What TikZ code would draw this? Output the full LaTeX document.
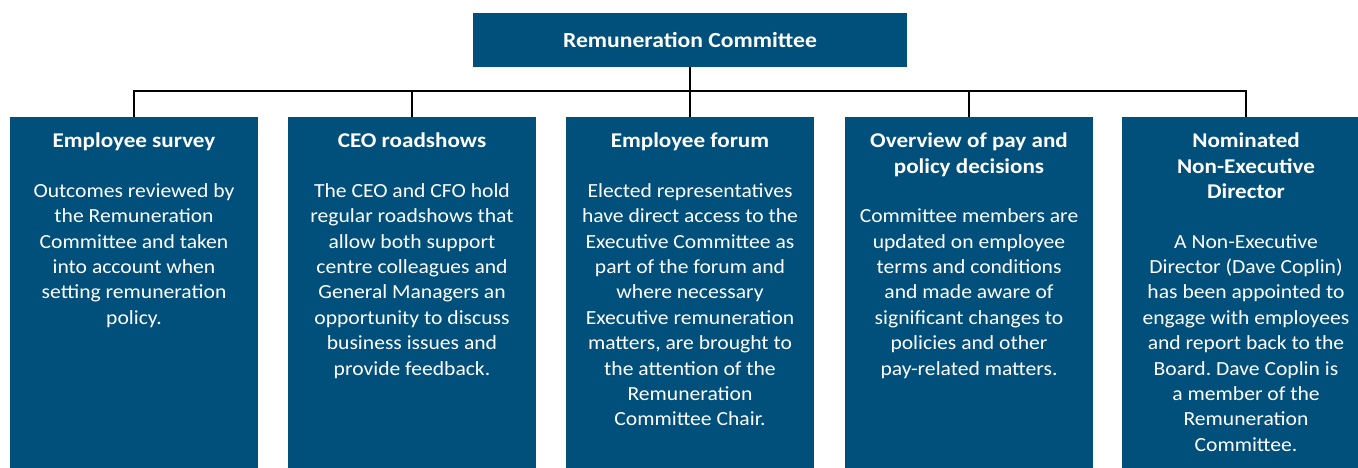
\documentclass[tikz,border=0pt]{standalone}
\usepackage{fontspec}
\setmainfont{Carlito}[FakeStretch=1.08, BoldFeatures={FakeStretch=1.1}]
\definecolor{rnavy}{RGB}{1,80,124}
\newcommand\cardtitle[1]{{\fontsize{21}{25.4}\selectfont\bfseries #1}}
\begin{document}
\frenchspacing
\begin{tikzpicture}[x=1pt,y=-1pt,
  card/.style={fill=rnavy, draw=none, minimum width=248pt, minimum height=351pt, anchor=north, inner sep=0pt, outer sep=0pt},
  cardtext/.style={text=white, align=center, anchor=north, inner sep=0pt, font=\fontsize{20}{25.4}\selectfont},
  topbox/.style={fill=rnavy, draw=none, minimum width=434pt, minimum height=54pt, inner sep=0pt, outer sep=0pt, text=white, font=\fontsize{21.5}{25.4}\selectfont\bfseries},
  conn/.style={draw=black, line width=1.3pt}]
\useasboundingbox (0,0) rectangle (1358,468);
\clip (0,0) rectangle (1358,468);
\node[topbox] (rc) at (690,40) {Remuneration Committee};
\node[card] (b1) at (134,117) {};
\node[card] (b2) at (412,117) {};
\node[card] (b3) at (690,117) {};
\node[card] (b4) at (969,117) {};
\node[card] (b5) at (1246,117) {};
\coordinate (bus) at (690,91);
\draw[conn] (rc.south) -- (b3.north);
\draw[conn] (b1.north) |- (b5.north |- bus) -- (b5.north);
\draw[conn] (b2.north) -- (b2.north |- bus);
\draw[conn] (b4.north) -- (b4.north |- bus);
\node[cardtext] (t1) at (134,130) {\strut\cardtitle{Employee survey}\\[24pt]
Outcomes reviewed by\\ the Remuneration\\ Committee and taken\\ into account when\\ setting remuneration\\ policy.};
\node[cardtext] (t2) at (412,130) {\strut\cardtitle{CEO roadshows}\\[24pt]
The CEO and CFO hold\\ regular roadshows that\\ allow both support\\ centre colleagues and\\ General Managers an\\ opportunity to discuss\\ business issues and\\ provide feedback.};
\node[cardtext] (t3) at (690,130) {\strut\cardtitle{Employee forum}\\[24pt]
Elected representatives\\ have direct access to the\\ Executive Committee as\\ part of the forum and\\ where necessary\\ Executive remuneration\\ matters, are brought to\\ the attention of the\\ Remuneration\\ Committee Chair.};
\node[cardtext] (t4) at (969,130) {\strut\cardtitle{Overview of pay and}\\ \cardtitle{policy decisions}\\[24pt]
Committee members are\\ updated on employee\\ terms and conditions\\ and made aware of\\ significant changes to\\ policies and other\\ pay-related matters.};
\node[cardtext] (t5) at (1246,130) {\strut\cardtitle{Nominated}\\ \cardtitle{Non-Executive}\\ \cardtitle{Director}\\[24pt]
A Non-Executive\\ Director (Dave Coplin)\\ has been appointed to\\ engage with employees\\ and report back to the\\ Board. Dave Coplin is\\ a member of the\\ Remuneration\\ Committee.};
\end{tikzpicture}
\end{document}
